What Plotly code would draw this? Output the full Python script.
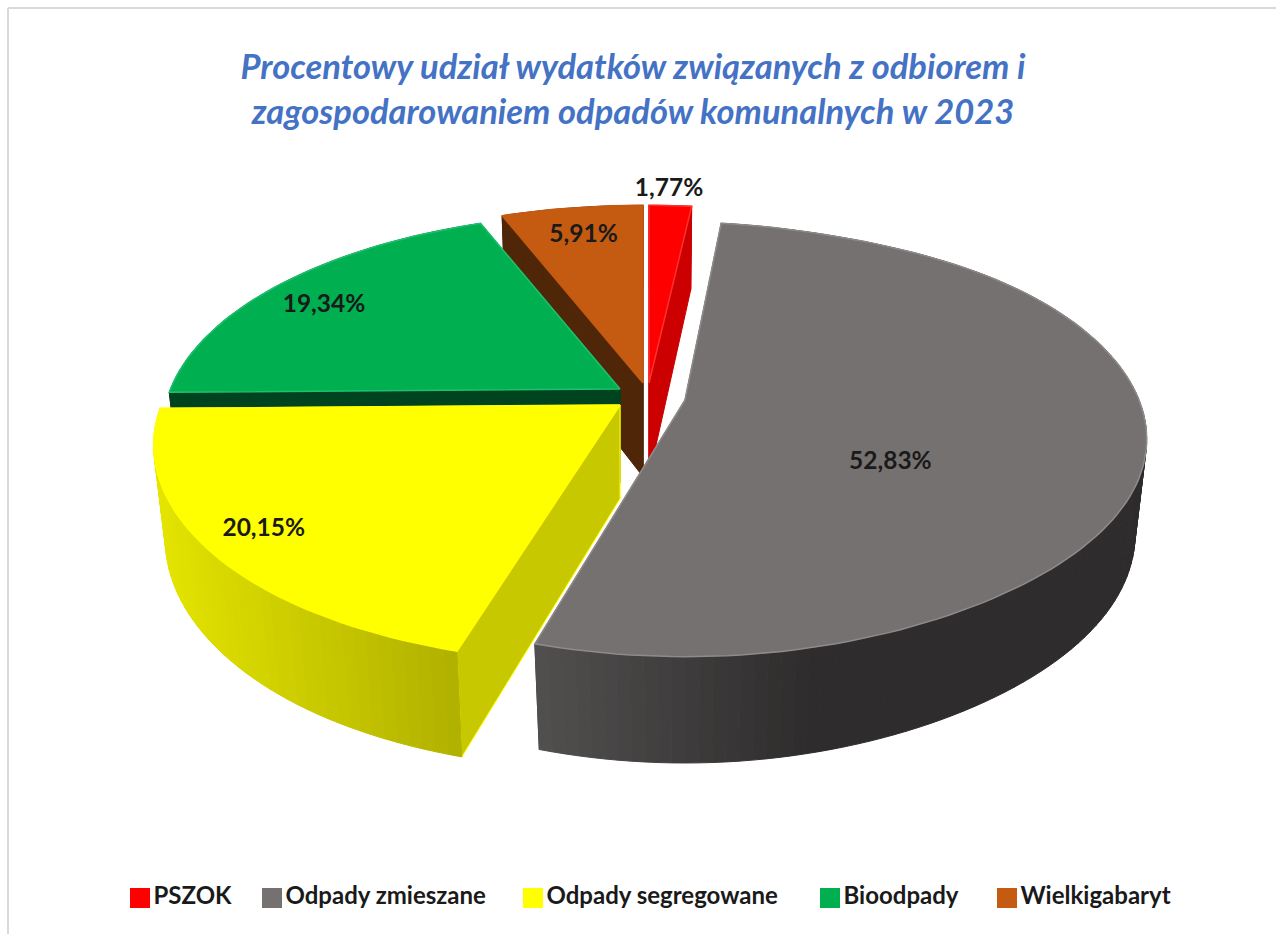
import math
import plotly.graph_objects as go

categories = ["PSZOK", "Odpady zmieszane", "Odpady segregowane", "Bioodpady", "Wielkigabaryt"]
values = [1.77, 52.83, 20.15, 19.34, 5.91]

top_colors = ["#ff0000", "#767171", "#ffff00", "#00b050", "#c55a11"]
edge_colors = ["#ff3030", "#8f8b8b", "#ffff00", "#20c070", "#c55a11"]
radial_colors = ["#cc0000", "#4d4a4a", "#c8c800", "#00431f", "#4f2608"]
rim_left = ["#cc0000", "#524f4f", "#e4e400", "#00431f", "#4f2608"]
rim_right = ["#cc0000", "#2e2c2c", "#b0b000", "#00431f", "#4f2608"]

# view of the tilted pie on the page
A, B, K = 454.0, 210.0, 0.182
Q, H = 0.025, 96.0
pull_centres = [(649, 383), (685, 400), (620, 405), (620, 389), (643, 383)]
slice_scale = [1.0, 1.0, 1.01, 0.99, 1.0]
front_squeeze = [0.0, 0.05, -0.035, 0.0, 0.0]
back_squeeze = [0.0, 0.16, 0.0, 0.0, 0.0]
label_spots = [(0.053, -1.105), (0.429, 0.285), (-0.70, 0.53), (-0.71, -0.43), (-0.15, -0.80)]
draw_order = [4, 3, 0, 2, 1]
legend_x = [140, 272, 533, 830, 1007]
legend_y = 898
LABEL_FONT = "Lato"


def shape_x(X, Y, i):
    # small per-slice correction of the near and far edges
    f = 1 - front_squeeze[i] * max(Y, 0.0) ** 4
    if Y < 0:
        f *= 1 - back_squeeze[i] * abs(Y) ** 8
    return X * f


def top_pt(i, X, Y):
    c, g = pull_centres[i], slice_scale[i]
    s = 1 / (1 - K * Y)
    return c[0] + A * g * shape_x(X, Y, i) * s, c[1] + B * g * Y * s


def low_pt(i, X, Y):
    c, g = pull_centres[i], slice_scale[i]
    s = 1 / (1 - K * Y + Q)
    return c[0] + A * g * shape_x(X, Y, i) * s, c[1] + (B * g * Y + H) * s


def unit(deg):
    r = math.radians(deg)
    return math.sin(r), -math.cos(r)


def mix(c1, c2, t):
    t = max(0.0, min(1.0, t))
    a = [int(c1[i:i + 2], 16) for i in (1, 3, 5)]
    b = [int(c2[i:i + 2], 16) for i in (1, 3, 5)]
    return "rgb(%d,%d,%d)" % tuple(round(p + (q - p) * t) for p, q in zip(a, b))


def poly(fig, pts, color, line=None, width=1.0):
    xs = [p[0] for p in pts] + [pts[0][0]]
    ys = [p[1] for p in pts] + [pts[0][1]]
    fig.add_trace(go.Scatter(x=xs, y=ys, mode="lines", fill="toself", fillcolor=color,
                             line=dict(color=line or color, width=width),
                             showlegend=False, hoverinfo="skip"))


total = sum(values)
spans = []
start = 0.0
for v in values:
    end = start + 360.0 * v / total
    spans.append((start, end))
    start = end

fig = go.Figure()

for i in draw_order:
    a0, a1 = spans[i]
    n = max(6, int((a1 - a0) / 1.5))
    angs = [a0 + (a1 - a0) * j / n for j in range(n + 1)]
    apex_top = top_pt(i, 0, 0)
    apex_low = low_pt(i, 0, 0)
    line = edge_colors[i] if i == 2 else None
    # radial walls, far one first
    for a in sorted((a0, a1), key=lambda d: unit(d)[1]):
        X, Y = unit(a)
        poly(fig, [apex_top, top_pt(i, X, Y), low_pt(i, X, Y), apex_low], radial_colors[i], line)
    # curved wall, shaded in narrow strips
    xs_all = [top_pt(i, *unit(a))[0] for a in angs]
    x_lo, x_hi = min(xs_all), max(xs_all)
    for a, b in zip(angs[:-1], angs[1:]):
        Xa, Ya = unit(a)
        Xb, Yb = unit(b)
        xm = (top_pt(i, Xa, Ya)[0] + top_pt(i, Xb, Yb)[0]) / 2
        if i == 1:
            t = (xm - x_lo) / ((x_hi - x_lo) * 0.45)
        else:
            t = (xm - x_lo) / (x_hi - x_lo + 1e-9)
        col = mix(rim_left[i], rim_right[i], t)
        poly(fig, [top_pt(i, Xa, Ya), top_pt(i, Xb, Yb), low_pt(i, Xb, Yb), low_pt(i, Xa, Ya)], col)
    # top face
    pts = [apex_top] + [top_pt(i, *unit(a)) for a in angs]
    poly(fig, pts, top_colors[i], edge_colors[i], 1.5)

# value labels
for i, v in enumerate(values):
    x, y = top_pt(i, *label_spots[i])
    fig.add_trace(go.Scatter(x=[x], y=[y], mode="text",
                             text=[f"{v:.2f}%".replace(".", ",")],
                             textfont=dict(family=LABEL_FONT, size=24.5, color="#1a1a1a", weight="bold"),
                             showlegend=False, hoverinfo="skip"))

# legend row
for name, col, lx in zip(categories, top_colors, legend_x):
    fig.add_trace(go.Scatter(x=[lx], y=[legend_y], mode="markers+text", text=[name],
                             textposition="middle right",
                             textfont=dict(family="Lato", size=24, color="#1a1a1a", weight="bold"),
                             marker=dict(symbol="square", size=20, color=col),
                             cliponaxis=False, showlegend=False, hoverinfo="skip"))

fig.update_layout(
    width=1276, height=934, autosize=False,
    margin=dict(l=0, r=0, t=0, b=0),
    paper_bgcolor="white", plot_bgcolor="white",
    xaxis=dict(range=[0, 1276], visible=False, fixedrange=True),
    yaxis=dict(range=[934, 0], visible=False, fixedrange=True),
    title=dict(text="<b><i>Procentowy udział wydatków związanych z odbiorem i<br>"
                    "zagospodarowaniem odpadów komunalnych w 2023</i></b>",
               x=633 / 1276, xanchor="center", y=0.915, yanchor="top",
               font=dict(family="Lato", size=34.5, color="#4472c4")),
    showlegend=False,
    shapes=[
        dict(type="line", xref="x", yref="y", x0=8, x1=8, y0=8, y1=934, line=dict(color="#d9d9d9", width=2)),
        dict(type="line", xref="x", yref="y", x0=8, x1=1276, y0=8, y1=8, line=dict(color="#d9d9d9", width=2)),
    ],
)

fig.write_html("out.html", config=dict(displayModeBar=False),
               post_script="document.body.style.margin='0';document.body.style.overflow='hidden';")
